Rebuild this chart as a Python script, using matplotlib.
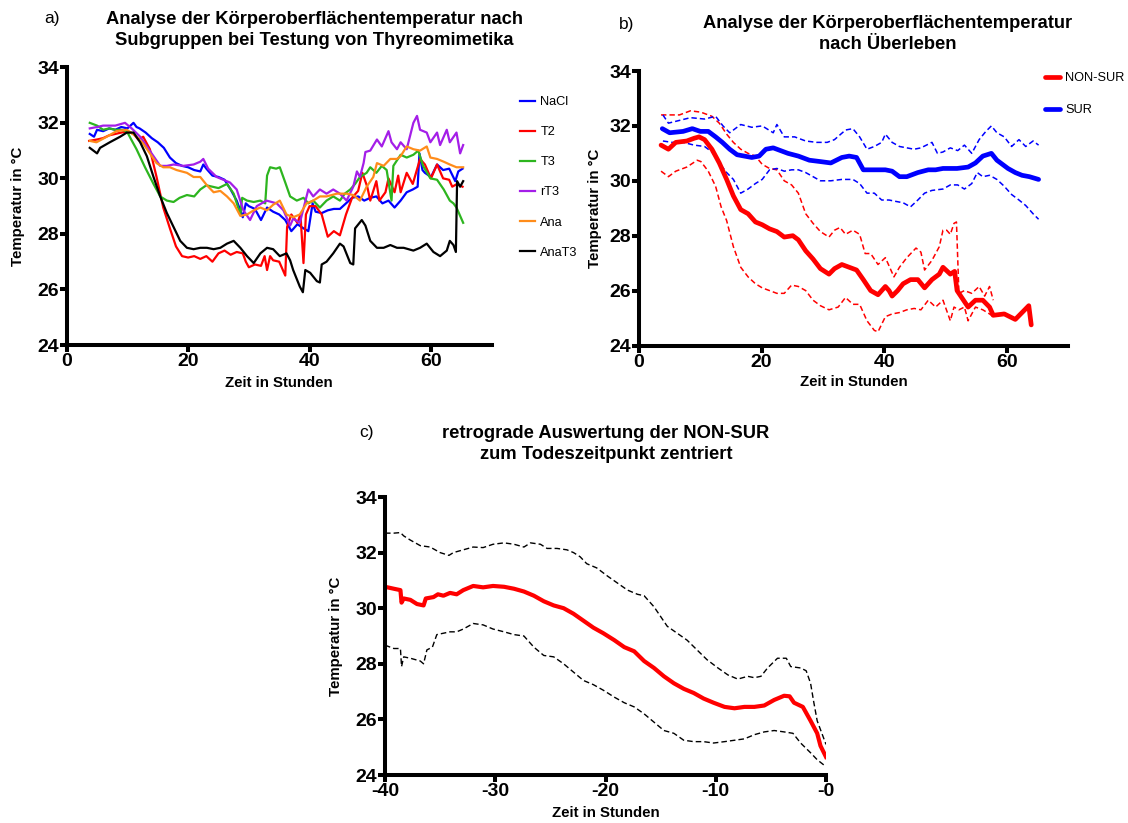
import matplotlib
matplotlib.use("Agg")
import matplotlib.pyplot as plt

plt.rcParams['font.family'] = ['Liberation Sans', 'DejaVu Sans']

# ---------------- data: (hours, temperature °C) ----------------
# a) subgroups
nacl = [(3.8,31.6),(4.5,31.5),(5,31.75),(6,31.7),(7,31.8),(8,31.75),(9,31.85),(10,31.8),(11,32.0),(11.5,31.85),
        (12,31.8),(13,31.65),(14,31.45),(15,31.3),(16,31.1),(17,30.75),(18,30.55),(19,30.45),(20,30.4),(21,30.3),
        (22,30.25),(22.5,30.5),(23,30.35),(24,30.1),(25,30.05),(26,29.95),(27,29.6),(28,29.2),(29,28.6),(29.5,29.1),
        (30,29.0),(31,28.9),(32,28.5),(33,28.95),(34,28.8),(35,28.7),(36,28.5),(37,28.1),(38,28.35),(39,28.2),
        (39.8,28.1),(40.5,29.1),(41,28.8),(42,28.75),(43,28.85),(44,28.9),(45,28.9),(46,29.1),(47,29.3),(48,29.35),
        (49,29.2),(50,29.3),(51,29.35),(52,29.1),(53,29.2),(54,28.95),(55,29.2),(56,29.5),(57,29.6),(57.8,29.7),
        (58.1,30.9),(58.6,30.3),(59,30.2),(60,30.05),(61,30.5),(62,30.3),(63,30.35),(64,29.9),(64.5,30.25),(65.2,30.35)]
t2 = [(3.7,31.35),(5,31.4),(6,31.45),(7,31.55),(8,31.6),(9,31.65),(10,31.7),(11,31.6),(11.8,31.4),(12.6,31.5),
      (13.7,31.05),(14.8,30.05),(15.9,28.95),(17,28.2),(18,27.55),(19,27.2),(20,27.15),(21,27.2),(22,27.1),(23,27.2),
      (24,27.0),(25,27.3),(26,27.4),(27,27.25),(28,27.35),(29,27.3),(29.5,27.0),(30,26.8),(31,26.9),(32,26.85),
      (32.6,27.2),(33,26.7),(33.5,27.2),(34,27.05),(35,27.0),(36,26.5),(36.3,28.25),(37,28.7),(38,28.4),(38.5,28.7),
      (39,26.95),(39.4,28.7),(40,29.0),(41,29.0),(42,28.7),(43,27.9),(44,28.1),(45,27.95),(46,28.7),(47,29.3),
      (48,29.55),(48.7,30.2),(49.5,29.7),(50,29.2),(51,29.9),(51.5,29.2),(52.5,29.5),(53,30.0),(54,29.5),(54.6,30.1),
      (55,29.5),(56,30.2),(57,29.8),(58.2,30.7),(59,30.5),(60,30.0),(61,30.5),(62,30.0),(63,29.95),(63.5,29.7),
      (64.3,29.8),(65.2,29.7)]
t3 = [(3.8,32.0),(5,31.9),(6,31.75),(7,31.8),(8,31.75),(9,31.75),(9.9,31.7),(10.5,31.45),(11.5,31.05),(12.9,30.4),
      (14.3,29.8),(15.4,29.35),(16.5,29.2),(17.6,29.15),(18.6,29.3),(19.8,29.4),(21,29.35),(22,29.6),(23,29.75),(24,29.7),
      (25,29.65),(26.4,29.8),(27.5,29.45),(28.6,28.7),(28.9,29.3),(29.7,29.2),(30.8,29.15),(31.9,29.2),(32.7,29.1),(33,30.1),
      (33.5,30.4),(34.5,30.35),(35.1,30.4),(36,29.85),(36.8,29.35),(37.9,29.2),(39,29.3),(39.8,29.1),(40.6,29.2),(41.7,28.95),
      (42.8,29.2),(43.9,29.35),(45,29.2),(45.8,29.45),(46.7,29.6),(47.5,29.8),(48.3,30.05),(49.4,30.2),(50,30.4),(51,30.2),
      (51.9,30.45),(52.7,30.3),(53.5,29.2),(53.8,30.45),(55,30.85),(56,30.75),(57.1,30.85),(57.9,31.0),(58.7,30.45),(59.9,30.0),
      (61,29.95),(62.1,29.6),(63.1,29.2),(63.7,29.1),(64.2,28.95),(65.3,28.4)]
rt3 = [(3.8,31.8),(5,31.85),(6,31.9),(7,31.9),(8,31.9),(9.6,32.0),(10.7,31.8),(12.1,31.5),(13.2,31.15),(14.3,30.8),
       (15.4,30.45),(16.5,30.45),(17.6,30.5),(19.2,30.45),(20.9,30.5),(22,30.6),(22.5,30.7),(23.3,30.35),(24.7,30.05),(25.8,29.95),
       (26.9,29.85),(28,29.6),(29.1,28.85),(30.2,28.5),(31.3,29.0),(32.9,29.2),(34.6,29.1),(35.7,28.85),(36.8,28.3),(37.3,28.55),
       (38.4,28.4),(39.8,29.6),(40.6,29.35),(41.7,29.6),(42.8,29.45),(43.9,29.6),(45,29.45),(46.1,29.2),(47.2,29.7),(47.8,30.25),
       (48.3,30.05),(48.9,30.55),(49.2,30.95),(50,31.0),(51.1,31.4),(51.9,31.15),(53,31.7),(53.5,31.3),(54.4,31.05),(55,31.3),
       (56,31.05),(57.1,32.0),(57.7,32.25),(58.2,31.75),(59.3,31.65),(59.9,31.3),(61,31.65),(61.5,31.2),(62.6,31.75),(63.1,31.3),
       (64.2,31.65),(64.8,30.9),(65.3,31.2)]
ana = [(3.8,31.35),(4.9,31.3),(6.6,31.5),(8.2,31.7),(9.9,31.75),(11.5,31.5),(12.6,31.25),(13.7,30.9),(14.8,30.55),(15.9,30.4),
       (17,30.4),(18.1,30.3),(19.8,30.2),(20.9,30.05),(22,30.05),(23.1,29.75),(24.2,29.5),(25.3,29.55),(26.4,29.35),(27.5,29.1),
       (28.6,28.65),(29.7,28.7),(30.8,28.85),(31.9,28.95),(33,28.85),(34,29.05),(35.1,29.2),(36.2,28.7),(37.3,28.6),(38.4,28.7),
       (39.5,29.1),(40.6,29.2),(41.7,29.35),(42.8,29.35),(44.5,29.45),(46.1,29.45),(47.2,29.4),(48.3,29.2),(49.4,29.7),(50.5,30.05),
       (51.1,30.55),(52.2,30.45),(53.3,30.7),(54.4,30.7),(55,30.8),(56,31.15),(57.1,31.05),(58.2,31.0),(59.3,31.15),(59.9,30.75),
       (61,30.7),(62.1,30.6),(63.1,30.5),(64.2,30.4),(65.3,30.4)]
anat3 = [(3.8,31.1),(5,30.9),(5.5,31.1),(7.1,31.3),(8.8,31.5),(9.9,31.65),(11,31.65),(12.1,31.3),(13.2,30.8),(14.3,30.05),
         (15.4,29.35),(16.5,28.75),(17.6,28.25),(18.7,27.75),(19.8,27.5),(20.9,27.45),(22,27.5),(23.1,27.5),(24.2,27.45),(25.3,27.5),
         (26.4,27.65),(27.5,27.75),(28.6,27.5),(29.7,27.2),(30.8,26.95),(31.9,27.3),(33,27.5),(34,27.45),(35.1,27.2),(36.2,27.3),
         (36.8,27.05),(37.3,26.7),(38.4,26.1),(38.9,25.9),(39.3,26.7),(40.1,26.6),(41.2,26.3),(41.7,26.25),(42,26.9),(42.8,27.0),
         (43.9,27.3),(45,27.65),(45.6,27.55),(46.7,26.95),(47.2,26.9),(47.5,28.2),(48.6,28.5),(49.2,28.3),(50,27.75),(51.1,27.5),
         (52.2,27.5),(53.3,27.6),(54.4,27.5),(55.5,27.5),(57.1,27.4),(58.2,27.5),(59.3,27.65),(60.4,27.35),(61.5,27.2),(62.6,27.4),
         (63.1,27.75),(63.7,27.6),(64.1,27.35),(64.3,29.9),(64.8,29.7),(65.3,29.9)]

group_labels = ["NaCl", "T2", "T3", "rT3", "Ana", "AnaT3"]
group_colors = ["#0000FF", "#FF0000", "#2DB51F", "#A41EE8", "#FF8C1A", "#000000"]

# b) survivors vs non-survivors: mean and band limits
sur_mean = [(3.8,31.9),(5,31.75),(7.2,31.8),(8.7,31.9),(10,31.8),(11.3,31.8),(12.5,31.6),(13.6,31.4),(14.8,31.15),(16,30.95),
            (17.2,30.9),(18.4,30.85),(19.6,30.9),(20.7,31.15),(21.9,31.2),(23.1,31.1),(24.3,31.0),(26,30.9),(27.8,30.75),(29.6,30.7),
            (31.3,30.65),(33.1,30.85),(34.3,30.9),(35.5,30.85),(36.6,30.4),(38.4,30.4),(40.2,30.4),(41.3,30.35),(42.5,30.15),(43.7,30.15),
            (45.5,30.3),(47.2,30.4),(48.4,30.4),(49.6,30.45),(50.8,30.45),(51.9,30.45),(53.7,30.5),(54.9,30.65),(56.1,30.9),(57.5,31.0),
            (58.4,30.75),(60.2,30.45),(61.4,30.3),(62.5,30.2),(63.7,30.15),(65.2,30.05)]
sur_hi = [(3.9,32.4),(4.8,32.1),(6.6,32.2),(8.4,32.3),(10.7,32.25),(12.5,32.35),(13.7,32.0),(14.8,31.75),(16.6,32.05),(18.4,31.95),
          (20.1,32.0),(21.9,31.75),(22.5,32.05),(23.7,31.6),(25.4,31.6),(27.2,31.45),(29,31.4),(30.7,31.4),(31.9,31.5),(33.7,31.85),
          (34.9,31.9),(36,31.6),(37.2,31.15),(38.4,31.25),(39.6,31.4),(40.2,31.7),(41.3,31.4),(42.5,31.25),(43.7,31.2),(44.9,31.15),
          (46,31.2),(47.8,31.4),(48.7,31.0),(49.6,31.05),(50.8,31.2),(52,31.1),(53.1,31.3),(54.3,31.0),(55.5,31.5),(56.6,31.8),
          (57.5,32.0),(58.4,31.75),(59.6,31.6),(60.8,31.25),(62,31.5),(63.1,31.25),(64.3,31.45),(65.2,31.3)]
sur_lo = [(3.9,31.45),(5.4,31.4),(7.2,31.4),(9,31.3),(10.7,31.25),(11.9,31.05),(13.1,30.65),(14.3,30.3),(15.4,30.05),(16.6,29.55),
          (17.8,29.7),(19,29.9),(20.1,30.05),(21.3,30.4),(22.5,30.45),(23.7,30.35),(24.9,30.4),(26,30.4),(27.2,30.3),(28.4,30.15),
          (29.6,30.0),(31.3,30.0),(33.1,30.05),(34.9,30.05),(36,29.9),(37.2,29.55),(38.4,29.55),(39.6,29.3),(40.8,29.3),(41.9,29.25),
          (43.1,29.2),(44.3,29.05),(45.5,29.3),(46.6,29.55),(47.8,29.65),(49.6,29.7),(50.8,29.85),(52,29.85),(53.1,29.7),(54.3,29.9),
          (55.2,30.3),(56.1,30.15),(57.2,30.2),(58.4,30.05),(59.6,29.8),(60.8,29.5),(62,29.3),(63.1,29.1),(64.3,28.8),(65.2,28.6)]
non_mean = [(3.6,31.3),(4.8,31.15),(6,31.4),(7.8,31.45),(9,31.55),(9.8,31.6),(10.7,31.5),(11.9,31.15),(13.1,30.65),(14.3,30.05),
            (15.4,29.45),(16.6,28.95),(17.8,28.8),(19,28.5),(20.1,28.4),(21.3,28.25),(22.5,28.15),(23.7,27.95),(25.1,28.0),(26,27.85),
            (27.2,27.45),(28.4,27.15),(29.6,26.8),(31,26.6),(31.9,26.8),(33.1,26.95),(34.3,26.85),(35.5,26.75),(36.6,26.4),(37.8,26.0),
            (39,25.85),(40.2,26.15),(40.8,26.0),(41.3,25.8),(42.2,26.0),(43.1,26.25),(44.3,26.4),(45.5,26.4),(46.6,26.1),(47.8,26.4),
            (49,26.6),(49.6,26.85),(50.8,26.6),(51.5,26.7),(51.9,26.0),(52.5,25.8),(53.7,25.4),(54.9,25.65),(56.1,25.65),(57.2,25.4),
            (57.8,25.1),(59.6,25.15),(61.4,24.95),(62.5,25.2),(63.6,25.45),(64,24.75)]
non_hi = [(3.6,32.4),(4.8,32.4),(6.6,32.4),(8.4,32.55),(10.1,32.5),(11.9,32.35),(13.1,32.1),(14.3,31.7),(15.4,31.4),(16.6,31.15),
          (17.8,31.0),(19,30.9),(20.1,30.6),(21.3,30.45),(22.5,30.4),(23.7,30.0),(24.9,29.85),(26,29.55),(27.2,28.8),(28.4,28.45),
          (29.6,28.15),(31,27.95),(31.9,28.2),(32.8,28.3),(33.7,28.05),(34.9,28.2),(36,28.05),(36.9,27.35),(37.8,27.35),(39,26.95),
          (40.2,27.2),(40.9,26.85),(41.6,26.5),(42.5,26.85),(43.7,27.2),(45.2,27.55),(46,27.4),(46.6,26.75),(47.8,27.1),(49,27.6),
          (49.6,28.2),(50.2,28.2),(50.8,28.05),(51.4,28.45),(51.8,28.5),(52.2,25.9),(53.1,26.0),(54.3,25.9),(55.5,26.15),(56.4,25.8),
          (57.2,26.15),(57.8,25.65)]
non_lo = [(3.6,30.35),(4.8,30.15),(6,30.35),(7.8,30.5),(9.5,30.75),(10.1,30.7),(11.3,30.35),(12.5,29.8),(13.4,29.05),(14.3,28.55),
          (15.4,27.6),(16.6,26.85),(17.8,26.5),(19,26.25),(20.1,26.1),(21.3,26.0),(22.5,25.9),(23.7,25.9),(24.9,26.2),(26,26.15),
          (27.2,26.0),(28.4,25.65),(29.6,25.45),(31,25.3),(32.5,25.4),(33.7,25.75),(34.9,25.5),(36,25.5),(37.2,24.9),(38.4,24.55),
          (39,24.5),(40.2,25.05),(41.3,25.15),(42.5,25.2),(43.7,25.3),(44.9,25.35),(46,25.3),(47.2,25.65),(48.4,25.4),(49.6,25.65),
          (50.8,24.9),(51.4,25.4),(52.2,25.3),(53.1,25.4),(53.7,24.9),(54.9,25.4),(56.1,25.3),(57.2,25.15),(57.8,25.05)]

# c) non-survivors aligned to time of death
ret_mean = [(-40,30.77),(-39.2,30.7),(-38.6,30.65),(-38.5,30.2),(-38.3,30.35),(-37.7,30.3),(-37.1,30.15),(-36.5,30.1),(-36.3,30.35),
            (-35.6,30.4),(-35.2,30.5),(-34.7,30.45),(-34.1,30.55),(-33.5,30.5),(-32.9,30.65),(-32,30.8),(-31.1,30.75),(-30.2,30.8),
            (-29.2,30.77),(-28.3,30.7),(-27.4,30.6),(-26.5,30.45),(-25.6,30.25),(-24.7,30.1),(-23.8,30.0),(-22.9,29.8),(-22,29.55),
            (-21.1,29.3),(-20.2,29.1),(-19.2,28.85),(-18.3,28.6),(-17.4,28.45),(-16.5,28.1),(-15.6,27.85),(-14.7,27.55),(-13.8,27.3),
            (-12.9,27.1),(-12,26.95),(-11.1,26.75),(-10.2,26.6),(-9.2,26.45),(-8.3,26.4),(-7.4,26.45),(-6.5,26.45),(-5.6,26.5),
            (-4.7,26.7),(-3.8,26.85),(-3.3,26.83),(-2.9,26.6),(-2.1,26.45),(-1.4,25.95),(-0.8,25.5),(-0.5,25.05),(0,24.65)]
ret_hi = [(-40,32.7),(-39.2,32.7),(-38.6,32.72),(-38.3,32.6),(-37.7,32.45),(-36.8,32.25),(-35.9,32.2),(-35,32.0),(-34.2,31.9),
          (-33.8,32.0),(-32.9,32.1),(-32,32.2),(-31.1,32.18),(-30.2,32.3),(-29.2,32.35),(-28.3,32.3),(-27.4,32.2),(-26.8,32.35),
          (-25.9,32.3),(-25.3,32.15),(-24.4,32.15),(-23.5,32.1),(-22.9,32.0),(-22.3,31.85),(-21.7,31.6),(-20.8,31.45),(-19.8,31.15),
          (-18.9,30.9),(-18,30.65),(-17.1,30.5),(-16.5,30.45),(-15.6,30.05),(-15,29.7),(-14.4,29.35),(-13.5,29.1),(-12.6,28.85),
          (-11.7,28.5),(-10.8,28.15),(-9.8,27.85),(-8.9,27.6),(-8,27.45),(-7.1,27.55),(-6.5,27.5),(-5.9,27.55),(-5.3,27.85),
          (-4.4,28.2),(-3.6,28.2),(-3.2,27.9),(-2.3,27.85),(-1.8,27.75),(-1.4,27.3),(-1.1,26.6),(-0.8,25.95),(0,25.1)]
ret_lo = [(-40,28.67),(-39.2,28.55),(-38.6,28.55),(-38.5,27.9),(-38.3,28.25),(-37.7,28.2),(-36.8,28.1),(-36.5,28.0),(-36.2,28.5),
          (-35.7,28.6),(-35.3,29.05),(-34.7,29.1),(-34.1,29.15),(-33.5,29.15),(-32.9,29.25),(-32,29.45),(-31.1,29.4),(-30.2,29.25),
          (-29.2,29.15),(-28.3,29.05),(-27.4,29.0),(-26.5,28.6),(-25.6,28.3),(-24.7,28.25),(-23.8,28.0),(-22.9,27.7),(-22,27.4),
          (-21.1,27.25),(-20.2,27.05),(-19.2,26.8),(-18.3,26.6),(-17.4,26.45),(-16.5,26.2),(-15.6,25.9),(-14.7,25.6),(-13.8,25.5),
          (-12.9,25.25),(-12,25.2),(-11.1,25.2),(-10.2,25.15),(-9.2,25.2),(-8.3,25.25),(-7.4,25.3),(-6.5,25.45),(-5.6,25.55),
          (-4.7,25.6),(-3.8,25.55),(-3,25.5),(-2.3,25.15),(-1.4,24.8),(-0.8,24.55),(0,24.3)]

y_ticks = [24, 26, 28, 30, 32, 34]
x_ticks_ab = [0, 20, 40, 60]
x_ticks_c = [-40, -30, -20, -10, 0]
x_ticklabels_c = ["-40", "-30", "-20", "-10", "-0"]


def xy(series):
    t, v = zip(*series)
    return list(t), list(v)


def style_axes(ax, xlim, xticks, xticklabels=None):
    ax.set_xlim(*xlim)
    ax.set_ylim(24, 34)
    ax.set_xticks(xticks)
    if xticklabels is not None:
        ax.set_xticklabels(xticklabels)
    ax.set_yticks(y_ticks)
    for side in ("top", "right"):
        ax.spines[side].set_visible(False)
    for side in ("left", "bottom"):
        ax.spines[side].set_linewidth(2.9)
    ax.tick_params(axis="both", width=2.9, length=5, labelsize=14)
    ax.tick_params(axis="y", pad=0.5)
    ax.tick_params(axis="x", pad=1.0)
    for lab in ax.get_xticklabels() + ax.get_yticklabels():
        lab.set_fontweight("bold")
    ax.set_ylabel("Temperatur in °C", fontsize=10.8, fontweight="bold")
    ax.set_xlabel("Zeit in Stunden", fontsize=10.8, fontweight="bold")


W, H = 1128, 823
fig = plt.figure(figsize=(W / 100, H / 100), dpi=100)


def axes_px(x0, x1, ytop, ybot):
    return fig.add_axes([x0 / W, 1 - ybot / H, (x1 - x0) / W, (ybot - ytop) / H])


# ---------- a) ----------
ax_a = axes_px(66.7, 491.7, 67.3, 345)
for series, lab, col in zip([nacl, t2, t3, rt3, ana, anat3], group_labels, group_colors):
    t, v = xy(series)
    ax_a.plot(t, v, color=col, lw=1.6, label=lab)
style_axes(ax_a, (0, 70), x_ticks_ab)
ax_a.yaxis.set_label_coords(-0.098, 0.5)
ax_a.xaxis.set_label_coords(0.5, -0.112)
ax_a.legend(loc="upper left", bbox_to_anchor=(520 / W, 1 - 96 / H), bbox_transform=fig.transFigure,
            frameon=False, fontsize=9.2, handlelength=1.15, handletextpad=0.45, labelspacing=1.42,
            borderaxespad=0, borderpad=0)

# ---------- b) ----------
ax_b = axes_px(639, 1068, 71, 345.5)
dash = (0, (3.5, 2))
for series in (non_hi, non_lo):
    t, v = xy(series)
    ax_b.plot(t, v, color="#FF0000", lw=1.1, ls=dash)
for series in (sur_hi, sur_lo):
    t, v = xy(series)
    ax_b.plot(t, v, color="#0000FF", lw=1.1, ls=dash)
t, v = xy(sur_mean)
ax_b.plot(t, v, color="#0000FF", lw=3.4, solid_capstyle="round", label="SUR")
t, v = xy(non_mean)
ax_b.plot(t, v, color="#FF0000", lw=3.4, solid_capstyle="round", label="NON-SUR")
style_axes(ax_b, (0, 70), x_ticks_ab)
ax_b.yaxis.set_label_coords(-0.086, 0.5)
ax_b.xaxis.set_label_coords(0.5, -0.107)
h, l = ax_b.get_legend_handles_labels()
ax_b.legend(h[::-1], l[::-1], loc="upper left", bbox_to_anchor=(1045 / W, 1 - 72 / H),
            bbox_transform=fig.transFigure, frameon=False, fontsize=9.2, handlelength=1.2,
            handletextpad=0.4, labelspacing=1.6, borderaxespad=0, borderpad=0)

# ---------- c) ----------
ax_c = axes_px(385, 826, 497, 775)
for series in (ret_hi, ret_lo):
    t, v = xy(series)
    ax_c.plot(t, v, color="black", lw=1.0, ls=(0, (4, 2.2)))
t, v = xy(ret_mean)
ax_c.plot(t, v, color="#FF0000", lw=3.0)
style_axes(ax_c, (-40, 0), x_ticks_c, x_ticklabels_c)
ax_c.yaxis.set_label_coords(-0.095, 0.5)
ax_c.xaxis.set_label_coords(0.5, -0.112)

# ---------- titles ----------
title_kw = dict(fontsize=13.2, fontweight="bold", ha="center", va="center", linespacing=1.3)
fig.text(314 / W, 1 - 30 / H, "Analyse der Körperoberflächentemperatur nach\nSubgruppen bei Testung von Thyreomimetika", **title_kw)
fig.text(888 / W, 1 - 34 / H, "Analyse der Körperoberflächentemperatur\nnach Überleben", **title_kw)
fig.text(606 / W, 1 - 444 / H, "retrograde Auswertung der NON-SUR\nzum Todeszeitpunkt zentriert", **title_kw)
panel_kw = dict(fontsize=12.5, ha="center", va="center")
fig.text(52 / W, 1 - 18 / H, "a)", **panel_kw)
fig.text(627 / W, 1 - 24 / H, "b)", **panel_kw)
fig.text(367 / W, 1 - 433 / H, "c)", **panel_kw)

fig.savefig("out.png", dpi=100)
